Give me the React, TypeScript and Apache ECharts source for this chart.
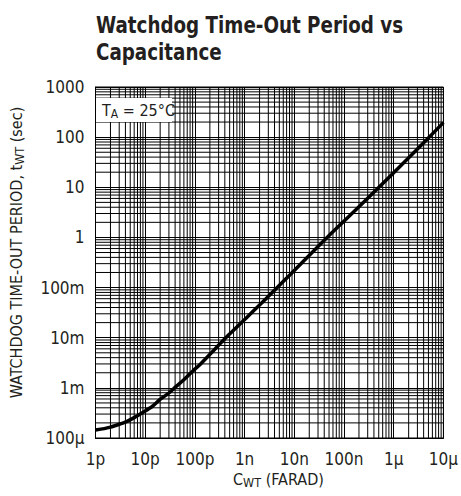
import React, { useEffect, useRef } from "react";
import * as echarts from "echarts";

const capacitance = [1e-12, 1.5e-12, 2e-12, 3e-12, 4.2e-12, 6e-12, 9.1e-12, 1.4e-11, 1.96e-11, 3e-11, 4.2e-11, 6e-11, 9e-11, 1.3e-10, 4.8e-10, 2.2e-9, 1e-8, 5.5e-8, 2e-7, 1e-6, 4.4e-6, 1e-5];
const timeout = [1.45e-4, 1.54e-4, 1.65e-4, 1.88e-4, 2.12e-4, 2.55e-4, 3.26e-4, 4.3e-4, 5.8e-4, 7.9e-4, 1.07e-3, 1.45e-3, 2.15e-3, 3.0e-3, 1.14e-2, 4.9e-2, 2.2e-1, 1.2, 4.1, 19.5, 85, 195];

const xTickLabels = ["1p", "10p", "100p", "1n", "10n", "100n", "1\u03bc", "10\u03bc"];
const yTickLabels = ["100\u03bc", "1m", "10m", "100m", "1", "10", "100", "1000"];
const xDecades = [-12, -11, -10, -9, -8, -7, -6];
const yDecades = [-4, -3, -2, -1, 0, 1, 2];
const minorMultipliers = [2, 3, 4, 5, 6, 7, 8, 9];

const X_MIN = 1e-12;
const X_MAX = 1e-5;
const Y_MIN = 1e-4;
const Y_MAX = 1000;

const FONT = "'DejaVu Sans Condensed', 'Liberation Sans Narrow', Arial, sans-serif";
const TEXT = "#231f20";

export default function App() {
  const ref = useRef<HTMLDivElement>(null);
  useEffect(() => {
    document.body.style.margin = "0";
    const chart = echarts.init(ref.current!, null, { renderer: "svg" });
    const minorX: number[][] = [];
    xDecades.forEach((d) => minorMultipliers.forEach((m) => minorX.push([m * Math.pow(10, d), 1])));
    const minorY: number[][] = [];
    yDecades.forEach((d) => minorMultipliers.forEach((m) => minorY.push([1e-9, m * Math.pow(10, d)])));
    const lineStyleGrid = { color: "#000", width: 1, type: "solid" as const };

    chart.setOption({
      animation: false,
      backgroundColor: "#fff",
      grid: {
        left: 94,
        right: 16,
        top: 87,
        bottom: 58,
        show: true,
        borderColor: "#000",
        borderWidth: 1,
        backgroundColor: "transparent",
      },
      xAxis: {
        type: "log",
        logBase: 10,
        min: X_MIN,
        max: X_MAX,
        interval: 1,
        name: "C{sub|WT} (FARAD)",
        nameLocation: "middle",
        nameGap: 31,
        nameTextStyle: {
          fontFamily: FONT,
          fontSize: 16,
          color: TEXT,
          padding: [0, 0, 0, 18],
          rich: {
            sub: { fontFamily: FONT, fontSize: 12.5, color: TEXT, padding: [6, 0, 0, 0] },
          },
        },
        axisLine: { show: true, lineStyle: { color: "#000", width: 1 } },
        axisTick: { show: false },
        axisLabel: {
          fontFamily: FONT,
          fontSize: 17,
          color: TEXT,
          margin: 12,
          formatter: (v: number) => xTickLabels[Math.round(Math.log10(v)) + 12] ?? "",
        },
        splitLine: { show: true, lineStyle: lineStyleGrid },
      },
      yAxis: {
        type: "log",
        logBase: 10,
        min: Y_MIN,
        max: Y_MAX,
        interval: 1,
        name: "WATCHDOG TIME-OUT PERIOD, t{sub|WT} (sec)",
        nameLocation: "middle",
        nameRotate: 90,
        nameGap: 70,
        nameTextStyle: {
          fontFamily: FONT,
          fontSize: 16,
          color: TEXT,
          padding: [0, 0, 0, 20],
          rich: {
            sub: { fontFamily: FONT, fontSize: 12.5, color: TEXT, padding: [6, 0, 0, 0] },
          },
        },
        axisLine: { show: true, lineStyle: { color: "#000", width: 1 } },
        axisTick: { show: false },
        axisLabel: {
          fontFamily: FONT,
          fontSize: 17,
          color: TEXT,
          margin: 11,
          formatter: (v: number) => yTickLabels[Math.round(Math.log10(v)) + 4] ?? "",
        },
        splitLine: { show: true, lineStyle: lineStyleGrid },
      },
      series: [
        {
          type: "custom",
          silent: true,
          z: 1,
          data: minorX,
          renderItem: (params: any, api: any) => {
            const p1 = api.coord([api.value(0), Y_MIN]);
            const p2 = api.coord([api.value(0), Y_MAX]);
            return {
              type: "line",
              shape: { x1: p1[0], y1: p1[1], x2: p2[0], y2: p2[1] },
              style: { stroke: "#000", lineWidth: 1 },
            };
          },
        },
        {
          type: "custom",
          silent: true,
          z: 1,
          data: minorY,
          renderItem: (params: any, api: any) => {
            const p1 = api.coord([X_MIN, api.value(1)]);
            const p2 = api.coord([X_MAX, api.value(1)]);
            return {
              type: "line",
              shape: { x1: p1[0], y1: p1[1], x2: p2[0], y2: p2[1] },
              style: { stroke: "#000", lineWidth: 1 },
            };
          },
        },
        {
          type: "line",
          data: capacitance.map((c, i) => [c, timeout[i]]),
          smooth: 0.3,
          showSymbol: false,
          lineStyle: { color: "#000", width: 3.5 },
          z: 5,
        },
      ],
      graphic: [
        {
          type: "text",
          x: 96,
          y: 12,
          scaleX: 0.885,
          z: 20,
          style: {
            text: "Watchdog Time-Out Period vs\nCapacitance",
            fontFamily: FONT,
            fontWeight: "bold",
            fontSize: 23,
            lineHeight: 27,
            fill: TEXT,
          },
        },
        {
          type: "rect",
          shape: { x: 96, y: 98, width: 76, height: 24 },
          style: { fill: "#fff" },
          z: 10,
        },
        {
          type: "text",
          x: 102,
          y: 101,
          z: 11,
          style: {
            text: "T{sub|A} = 25\u00b0C",
            fontFamily: FONT,
            fontSize: 16,
            fill: TEXT,
            rich: {
              sub: { fontFamily: FONT, fontSize: 12, fill: TEXT, padding: [7, 0, 0, 0] },
            },
          },
        },
      ],
    });
    return () => chart.dispose();
  }, []);
  return <div ref={ref} style={{ width: 461, height: 496 }} />;
}
